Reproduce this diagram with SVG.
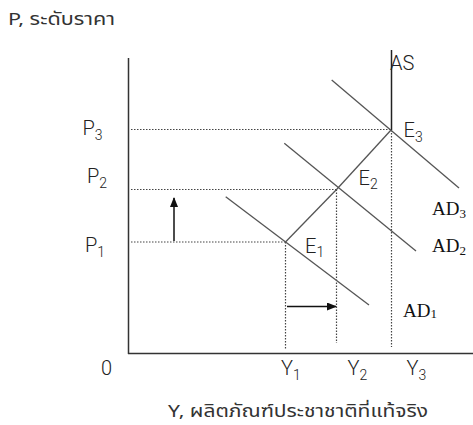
<svg xmlns="http://www.w3.org/2000/svg" width="473" height="425" viewBox="0 0 473 425">
<defs>
<style>
.axis{stroke:#333;stroke-width:1.5;fill:none}
.curve{stroke:#555;stroke-width:1.3;fill:none}
.dot{stroke:#444;stroke-width:1.2;stroke-dasharray:1.5 1.5;fill:none}
.arr{stroke:#111;stroke-width:1.5;fill:none}
.lab{font-family:Roboto,"Liberation Sans",sans-serif;font-weight:300;font-size:20px;fill:#222}
.sub{font-size:14px}
.ad{font-family:"Liberation Serif","Times New Roman",serif;font-size:19px;fill:#111}
.adsub{font-size:13px}
.thai{font-family:"Noto Sans Thai","Tahoma","Loma","Garuda","Liberation Sans",sans-serif;font-size:17px;fill:#333}
</style>
<marker id="ah" markerWidth="10" markerHeight="8" refX="9" refY="4" orient="auto" markerUnits="userSpaceOnUse">
<path d="M0,0 L10,4 L0,8 Z" fill="#111"/>
</marker>
</defs>
<rect width="473" height="425" fill="#fff"/>
<g id="axes">
<line class="axis" x1="128.5" y1="58" x2="128.5" y2="354"/>
<line class="axis" x1="128" y1="353.5" x2="473" y2="353.5"/>
</g>
<g id="connectors">
<line class="dot" x1="131" y1="129.5" x2="391" y2="129.5"/>
<line class="dot" x1="131" y1="189.5" x2="337" y2="189.5"/>
<line class="dot" x1="131" y1="242" x2="285" y2="242"/>
<line class="dot" x1="285.5" y1="242" x2="285.5" y2="350"/>
<line class="dot" x1="336.5" y1="189.5" x2="336.5" y2="343"/>
<line class="dot" x1="391.5" y1="130" x2="391.5" y2="347"/>
<line class="curve" x1="285.5" y1="242" x2="337" y2="189" />
<line class="curve" x1="337" y1="189" x2="391.5" y2="129.5"/>
<line class="arr" x1="174" y1="241" x2="174" y2="198" marker-end="url(#ah)"/>
<line class="arr" x1="287" y1="306.5" x2="336" y2="306.5" marker-end="url(#ah)"/>
</g>
<g id="AS">
<line x1="391.5" y1="50" x2="391.5" y2="130" stroke="#222" stroke-width="1.5"/>
<text class="lab" x="390" y="70" font-size="18">AS</text>
</g>
<g id="AD1">
<line class="curve" x1="225.7" y1="196.7" x2="369" y2="305"/>
<text class="ad" x="403" y="316.5">AD<tspan class="adsub" dy="1">1</tspan></text>
</g>
<g id="AD2">
<line class="curve" x1="284.3" y1="143.3" x2="416" y2="251"/>
<text class="ad" x="432" y="252">AD<tspan class="adsub" dy="3">2</tspan></text>
</g>
<g id="AD3">
<line class="curve" x1="331.7" y1="80" x2="459" y2="188"/>
<text class="ad" x="432" y="214.5">AD<tspan class="adsub" dy="3">3</tspan></text>
</g>
<g id="E1"><text class="lab" x="305" y="252.5">E<tspan class="sub" dy="4">1</tspan></text></g>
<g id="E2"><text class="lab" x="358.5" y="185">E<tspan class="sub" dy="4">2</tspan></text></g>
<g id="E3"><text class="lab" x="403.5" y="136.5">E<tspan class="sub" dy="5">3</tspan></text></g>
<g id="P1"><text class="lab" x="85" y="251.5">P<tspan class="sub" dy="5">1</tspan></text></g>
<g id="P2"><text class="lab" x="87" y="183">P<tspan class="sub" dy="5">2</tspan></text></g>
<g id="P3"><text class="lab" x="82.5" y="135">P<tspan class="sub" dy="5">3</tspan></text></g>
<g id="Y1"><text class="lab" x="281" y="375">Y<tspan class="sub" dy="5">1</tspan></text></g>
<g id="Y2"><text class="lab" x="347.5" y="375">Y<tspan class="sub" dy="5">2</tspan></text></g>
<g id="Y3"><text class="lab" x="406.5" y="375">Y<tspan class="sub" dy="5">3</tspan></text></g>
<g id="origin"><text class="lab" x="101" y="375">0</text></g>
<g id="titles">
<text class="thai" x="8" y="25" textLength="107" lengthAdjust="spacingAndGlyphs">P, ระดับราคา</text>
<text class="thai" x="168" y="417" textLength="260" lengthAdjust="spacingAndGlyphs">Y, ผลิตภัณฑ์ประชาชาติที่แท้จริง</text>
</g>
</svg>
